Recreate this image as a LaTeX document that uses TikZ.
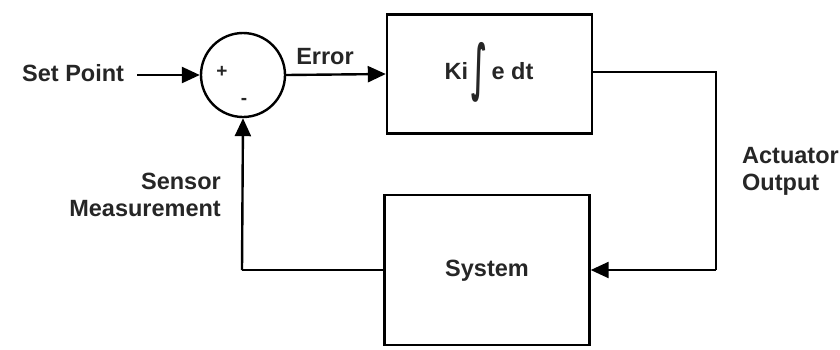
\documentclass[tikz,border=0pt]{standalone}
\usepackage{fontspec}
\setmainfont{Liberation Sans}
\newfontfamily\symfont{DejaVu Sans}
\usetikzlibrary{arrows.meta}
\tikzset{
  lbl/.style={font=\bfseries\fontsize{23.5}{27}\selectfont, text=black!85, inner sep=0pt},
  blk/.style={draw, line width=2.4pt, minimum width=205pt, inner sep=0pt},
  conn/.style={line width=2.4pt, -{Triangle[length=18pt,width=16pt]}},
  plain/.style={line width=2.4pt}
}
\begin{document}
\begin{tikzpicture}[x=1pt,y=-1pt]
\useasboundingbox (0,0) rectangle (840,349);
\node[draw, circle, line width=2.4pt, minimum size=84pt, inner sep=0pt] (sum) at (243,75) {};
\node[lbl, font=\bfseries\fontsize{19}{20}\selectfont] (plus) at (222,72) {+};
\node[lbl, font=\bfseries\fontsize{19}{20}\selectfont] (minus) at (244,101) {-};
\node[lbl, anchor=west] (sp) at (22,73) {Set Point};
\coordinate (spe) at (137,75);
\node[blk, minimum height=119pt] (ki) at (489.5,74) {};
\node[lbl] (kitext) at (489,72) {Ki\,\raisebox{-0.36em}{\scalebox{1.1}[2.6]{\symfont\bfseries ∫}}\,e dt};
\node[lbl] (err) at (325,57) {Error};
\node[blk, minimum height=150pt] (sys) at (487,270) {};
\node[lbl] (systext) at (487,271) {System};
\coordinate (c1) at (716,72);
\coordinate (c2) at (716,270);
\coordinate (c3) at (242,270);
\node[lbl, anchor=north west, align=left] (act) at (742,147) {Actuator\\Output};
\node[lbl, anchor=north east, align=right] (sens) at (221,173) {Sensor\\Measurement};
\draw[conn] (spe) -- (sum.west);
\draw[conn] (sum.east) -- (ki.west);
\draw[plain] (ki.east |- c1) -- (c1) -- (c2);
\draw[conn] (c2) -- (sys.east |- c2);
\draw[plain] (sys.west |- c3) -- (c3);
\draw[conn] (c3) -- (sum.south);
\end{tikzpicture}
\end{document}
